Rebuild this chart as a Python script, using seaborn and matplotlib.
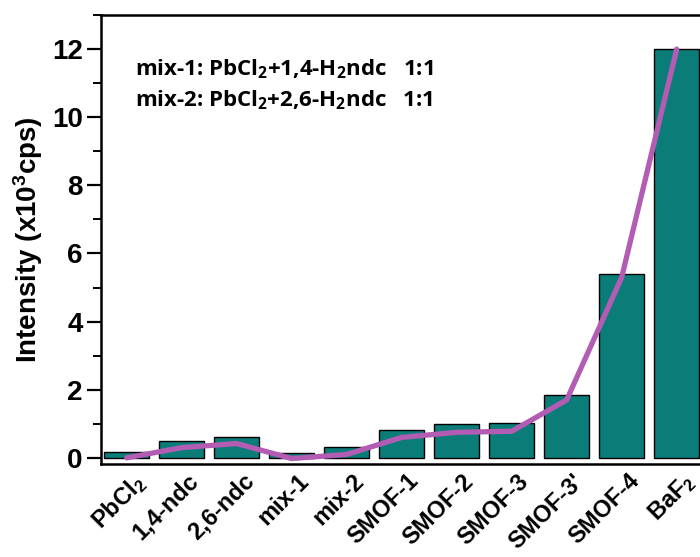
import numpy as np
import pandas as pd
import matplotlib
matplotlib.use("Agg")
import matplotlib.pyplot as plt
import matplotlib.transforms as mtransforms
import seaborn as sns
from matplotlib.ticker import MultipleLocator

# categories and values
samples = ["PbCl$_2$", "1,4-ndc", "2,6-ndc", "mix-1", "mix-2", "SMOF-1",
           "SMOF-2", "SMOF-3", "SMOF-3'", "SMOF-4", "BaF$_2$"]
bar_intensity = [0.18, 0.50, 0.62, 0.15, 0.32, 0.82, 1.00, 1.03, 1.85, 5.40, 12.0]
line_intensity = [0.0, 0.30, 0.42, -0.02, 0.10, 0.60, 0.75, 0.78, 1.70, 5.30, 12.0]
notes = ["mix-1: PbCl$_2$+1,4-H$_2$ndc   1:1",
         "mix-2: PbCl$_2$+2,6-H$_2$ndc   1:1"]

sns.set_style("ticks")
plt.rcParams["font.family"] = ["Liberation Sans", "DejaVu Sans"]
plt.rcParams["mathtext.default"] = "regular"
for key in ["text.color", "axes.labelcolor", "xtick.color", "ytick.color",
            "axes.edgecolor"]:
    plt.rcParams[key] = "black"

df = pd.DataFrame({"sample": samples, "bar": bar_intensity, "line": line_intensity})

fig = plt.figure(figsize=(7.0, 5.57), dpi=100)
ax = fig.add_axes([0.144, 0.167, 0.862, 0.806])

sns.barplot(data=df, x="sample", y="bar", color="#0b7d78", saturation=1,
            width=0.82, edgecolor="black", linewidth=1.0, ax=ax)
sns.lineplot(data=df, x="sample", y="line", sort=False, color="#b35cb4",
             linewidth=3.8, ax=ax)

ax.set_xlim(-0.47, 10.5)
ax.set_ylim(-0.18, 13.0)
ax.set_yticks(np.arange(0, 13, 2))
ax.yaxis.set_minor_locator(MultipleLocator(1))

for side in ["left", "bottom", "top", "right"]:
    ax.spines[side].set_linewidth(1.8)
    ax.spines[side].set_visible(True)

ax.tick_params(axis="y", which="major", length=10, width=1.6, direction="out",
               labelsize=20, pad=3)
ax.tick_params(axis="y", which="minor", length=6, width=1.4, direction="out")
ax.tick_params(axis="x", length=0, labelsize=17, pad=4)
for lab in ax.get_yticklabels():
    lab.set_fontweight("bold")
# rotated labels sit a little right of the bar centres, as in the original
shift = mtransforms.ScaledTranslation(4 / 72, 0, fig.dpi_scale_trans)
for lab in ax.get_xticklabels():
    lab.set_fontweight("bold")
    lab.set_rotation(45)
    lab.set_ha("right")
    lab.set_rotation_mode("anchor")
    lab.set_transform(lab.get_transform() + shift)

ax.set_xlabel("")
ax.set_ylabel("Intensity (x10$^3$cps)", fontsize=20, fontweight="bold", labelpad=5)

for i, txt in enumerate(notes):
    ax.text(0.056, 0.879 - i * 0.069, txt, transform=ax.transAxes,
            fontsize=16, fontweight="bold", family=["Open Sans", "DejaVu Sans"],
            va="center", ha="left")

fig.savefig("out.png", dpi=100)
